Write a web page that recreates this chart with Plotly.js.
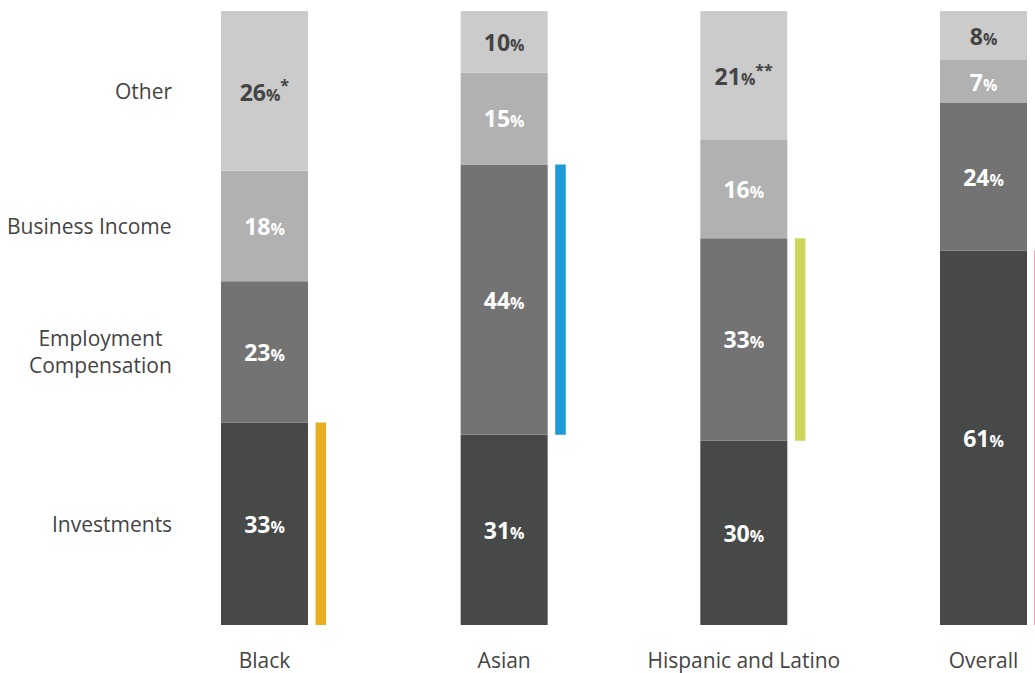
<!DOCTYPE html>
<html>
<head>
<meta charset="utf-8">
<script src="https://cdn.plot.ly/plotly-3.0.1.min.js"></script>
<style>html,body{margin:0;padding:0;background:#fff;}#chart{width:1035px;height:673px;}</style>
</head>
<body>
<div id="chart"></div>
<script>
const categories = ['Black', 'Asian', 'Hispanic and Latino', 'Overall'];
const segmentNames = ['Investments', 'Employment<br>Compensation', 'Business Income', 'Other'];
const investments = [33, 31, 30, 61];
const employment = [23, 44, 33, 24];
const business = [18, 15, 16, 7];
const other = [26, 10, 21, 8];
const otherNotes = ['*', '', '**', ''];
const highlightColors = ['#e6b022', '#1e9bd7', '#cdd65a', '#e8336e'];

const FONT = '"Open Sans", "Noto Sans", sans-serif';
const series = [investments, employment, business, other];
const segColors = ['#474948', '#737373', '#b0b1b0', '#cbcbcb'];
const txtColors = ['#ffffff', '#ffffff', '#ffffff', '#444444'];
const notes = [null, null, null, otherNotes];

const traces = [];
const bases = categories.map(() => 0);
const segBases = [];
series.forEach((vals, s) => {
  const b = bases.slice();
  segBases.push(b);
  traces.push({
    type: 'bar',
    x: categories,
    y: vals,
    base: b,
    width: 0.363,
    marker: {color: segColors[s], line: {width: 0}},
    text: vals.map((v, i) => '<b>' + v + '</b><b><span style="font-size:16px">%</span></b>' +
      (notes[s] && notes[s][i] ? '<b><sup>' + notes[s][i] + '</sup></b>' : '')),
    textposition: 'inside',
    insidetextanchor: 'middle',
    textangle: 0,
    constraintext: 'none',
    textfont: {family: FONT, size: 23, color: txtColors[s]},
    hoverinfo: 'skip'
  });
  vals.forEach((v, i) => { bases[i] += v; });
});

// highlight line next to the largest segment of each bar
const hlY = [], hlBase = [];
categories.forEach((c, i) => {
  let best = 0;
  series.forEach((vals, s) => { if (vals[i] > series[best][i]) best = s; });
  hlY.push(series[best][i]);
  hlBase.push(segBases[best][i]);
});
traces.push({
  type: 'bar',
  x: categories,
  y: hlY,
  base: hlBase,
  width: 0.044,
  offset: 0.213,
  marker: {color: highlightColors, line: {width: 0}},
  hoverinfo: 'skip'
});

// left labels at the mid-points of the first bar's segments
const annotations = segmentNames.map((name, s) => ({
  text: name,
  x: -0.378,
  xref: 'x',
  xanchor: 'right',
  y: segBases[s][0] + series[s][0] / 2,
  yref: 'y',
  yanchor: 'middle',
  align: 'center',
  showarrow: false,
  font: {family: FONT, size: 21, color: '#444444'}
}));

const layout = {
  width: 1035,
  height: 673,
  margin: {l: 0, r: 0, t: 11, b: 48, pad: 0},
  barmode: 'overlay',
  showlegend: false,
  paper_bgcolor: '#ffffff',
  plot_bgcolor: '#ffffff',
  font: {family: FONT, color: '#444444'},
  xaxis: {
    type: 'category',
    range: [-1.1036, 3.2149],
    showgrid: false, zeroline: false, showline: false, ticks: '',
    tickfont: {family: FONT, size: 21, color: '#444444'},
    ticklabelstandoff: 21
  },
  yaxis: {range: [0, 100], visible: false, showgrid: false, zeroline: false},
  annotations: annotations
};

Plotly.newPlot('chart', traces, layout, {staticPlot: true, displayModeBar: false});
</script>
</body>
</html>
